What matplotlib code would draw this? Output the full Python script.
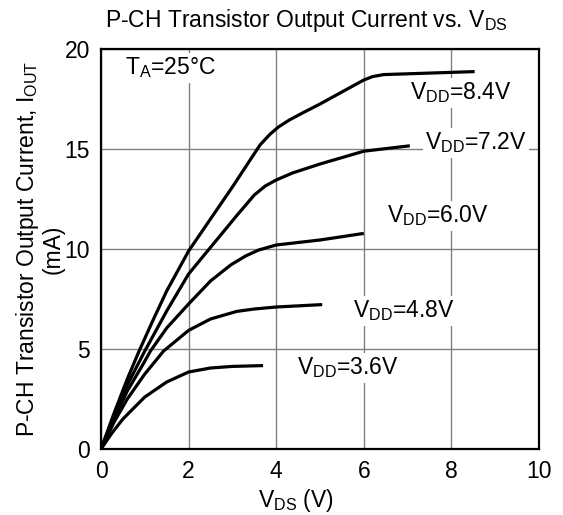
import matplotlib
matplotlib.use("Agg")
import matplotlib.pyplot as plt

plt.rcParams['font.family'] = ['Liberation Sans', 'DejaVu Sans']
plt.rcParams['mathtext.default'] = 'regular'

# Data (V_DS in V, I_OUT in mA)
vds_84 = [0, 0.3, 0.6, 0.87, 1.2, 1.5, 2.0, 2.5, 3.0, 3.63, 3.85, 4.05, 4.3, 4.6, 5.0, 5.5, 6.0, 6.2, 6.45, 7.0, 8.53]
iout_84 = [0, 1.8, 3.5, 4.9, 6.5, 7.9, 9.9, 11.5, 13.1, 15.2, 15.72, 16.1, 16.45, 16.8, 17.25, 17.85, 18.45, 18.62, 18.72, 18.76, 18.87]

vds_72 = [0, 0.3, 0.6, 1.0, 1.5, 2.0, 2.47, 3.11, 3.5, 3.75, 4.0, 4.37, 5.0, 6.0, 7.05]
iout_72 = [0, 1.6, 3.2, 4.9, 6.9, 8.75, 10.0, 11.7, 12.7, 13.15, 13.45, 13.8, 14.25, 14.89, 15.16]

vds_60 = [0, 0.3, 0.6, 0.95, 1.13, 1.5, 2.0, 2.5, 2.96, 3.3, 3.6, 4.0, 5.0, 6.0]
iout_60 = [0, 1.5, 2.9, 4.2, 4.9, 6.05, 7.25, 8.4, 9.2, 9.65, 9.95, 10.2, 10.45, 10.78]

vds_48 = [0, 0.3, 0.6, 1.0, 1.43, 2.0, 2.5, 3.1, 3.5, 4.0, 5.05]
iout_48 = [0, 1.35, 2.5, 3.75, 4.9, 5.93, 6.5, 6.88, 7.0, 7.1, 7.22]

vds_36 = [0, 0.25, 0.5, 1.0, 1.5, 2.0, 2.5, 3.0, 3.7]
iout_36 = [0, 0.8, 1.5, 2.6, 3.35, 3.85, 4.05, 4.13, 4.17]

curve_labels = ['8.4V', '7.2V', '6.0V', '4.8V', '3.6V']
x_ticks = [0, 2, 4, 6, 8, 10]
y_ticks = [0, 5, 10, 15, 20]

FS = 16.5

fig = plt.figure(figsize=(5.63, 5.15), dpi=100)
ax = fig.add_axes([101/563, 1-449/515, 438/563, 400/515])

series = [(vds_84, iout_84), (vds_72, iout_72), (vds_60, iout_60),
          (vds_48, iout_48), (vds_36, iout_36)]
for xs, ys in series:
    ax.plot(xs, ys, color='black', lw=2.3, solid_capstyle='butt',
            solid_joinstyle='round', zorder=3)

ax.set_xlim(0, 10)
ax.set_ylim(0, 20)
ax.set_xticks(x_ticks)
ax.set_yticks(y_ticks)
ax.tick_params(length=0, labelsize=FS, pad=8)
ax.grid(True, color='#808080', lw=1.0, zorder=1)
for s in ax.spines.values():
    s.set_linewidth(1.6)
    s.set_color('black')
    s.set_zorder(5)

label_pos = [(7.05, 17.8), (7.4, 15.3), (6.53, 11.65), (5.75, 6.9), (4.47, 4.05)]
for lab, (lx, ly) in zip(curve_labels, label_pos):
    ax.text(lx, ly, 'V$_{DD}$=' + lab, fontsize=FS, ha='left', va='center',
            bbox=dict(facecolor='white', edgecolor='none', pad=1.5), zorder=4)

ax.text(0.55, 19.05, 'T$_{A}$=25°C', fontsize=FS, ha='left', va='center',
        bbox=dict(facecolor='white', edgecolor='none', pad=1.5), zorder=4)

ax.set_xlabel('V$_{DS}$ (V)', fontsize=FS)
ax.xaxis.label.set_verticalalignment('center')
ax.xaxis.set_label_coords(0.445, -0.13)

ax.set_ylabel('P-CH Transistor Output Current, I$_{OUT}$\n(mA)', fontsize=FS,
              multialignment='center', linespacing=1.0)
ax.yaxis.label.set_verticalalignment('center')
ax.yaxis.set_label_coords(-0.141, 0.5)

fig.text(306/563, 1-20/515, 'P-CH Transistor Output Current vs. V$_{DS}$',
         fontsize=FS, ha='center', va='center')

fig.savefig('out.png', dpi=100)
